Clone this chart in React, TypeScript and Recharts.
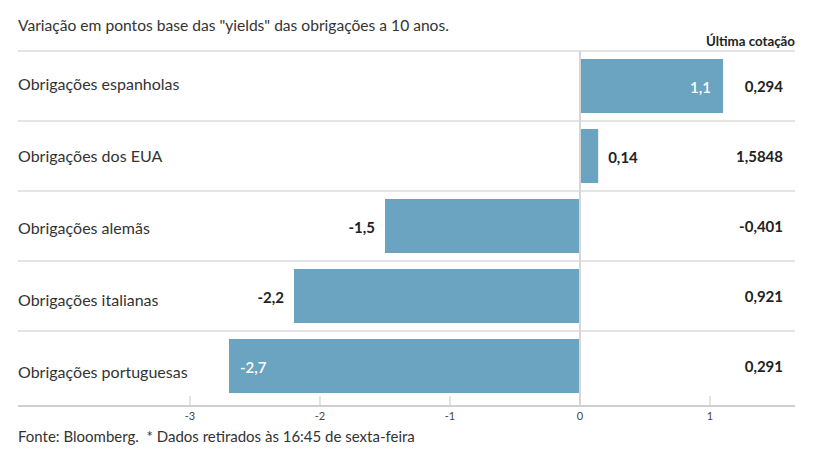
import { BarChart, Bar, XAxis, YAxis, CartesianGrid, LabelList } from 'recharts';

const categories = [
  'Obrigações espanholas',
  'Obrigações dos EUA',
  'Obrigações alemãs',
  'Obrigações italianas',
  'Obrigações portuguesas',
];
const variacao = [1.1, 0.14, -1.5, -2.2, -2.7];
const ultimaCotacao = ['0,294', '1,5848', '-0,401', '0,921', '0,291'];
const xTicks = [-3, -2, -1, 0, 1];

const data = categories.map((name, i) => ({
  name,
  variacao: variacao[i],
  cotacao: ultimaCotacao[i],
}));

const W = 817;
const H = 460;
const margin = { top: 51, right: 22, bottom: 29, left: 18 };
const plotLeft = margin.left;
const plotRight = W - margin.right;

const FONT = 'Lato, "Open Sans", sans-serif';
const BAR = '#6aa4c0';
const GRID = '#c9c9c9';
const TEXT = '#333';

const fmt = (v: number) => String(v).replace('.', ',');

// category names sit in the left column, slightly drifting down like the original
const CategoryLabel = (props: any) => {
  const { y, height, value } = props;
  const i = categories.indexOf(value);
  return (
    <text x={plotLeft} y={y + height / 2 + i * 2 - 2} dy="0.35em" textAnchor="start" fontSize={16} fill={TEXT} fontFamily={FONT}>
      {value}
    </text>
  );
};

// tick mark + label; the 0 tick also carries the vertical baseline up to the top rule
const XTick = (props: any) => {
  const { x, y, payload } = props;
  return (
    <g>
      {payload.value === 0 ? (
        <line x1={x} x2={x} y1={margin.top} y2={y + 5} stroke="#d6d6d6" strokeWidth={2} />
      ) : (
        <line x1={x} x2={x} y1={y - 5} y2={y + 4} stroke={GRID} strokeWidth={1} />
      )}
      <text x={x} y={y + 15} dy="0.35em" textAnchor="middle" fontSize={11} fill="#444" fontFamily={FONT}>
        {payload.value}
      </text>
    </g>
  );
};

const ValueLabel = (props: any) => {
  const { x, y, width, height, value } = props;
  const left = Math.min(x, x + width);
  const right = Math.max(x, x + width);
  const cy = y + height / 2 + 2;
  const positive = value >= 0;
  const fits = positive ? right + 50 < plotRight - 70 : left - 50 > plotLeft + 170;
  let tx: number;
  let anchor: 'start' | 'end';
  if (fits) {
    tx = positive ? right + 10 : left - 10;
    anchor = positive ? 'start' : 'end';
  } else {
    tx = positive ? right - 12 : left + 11;
    anchor = positive ? 'end' : 'start';
  }
  return (
    <text
      x={tx}
      y={cy}
      dy="0.35em"
      textAnchor={anchor}
      fontSize={15}
      fontWeight={fits ? 700 : 600}
      fill={fits ? '#222' : '#fff'}
      fontFamily={FONT}
    >
      {fmt(value)}
    </text>
  );
};

const CotacaoLabel = (props: any) => {
  const { y, height, value } = props;
  return (
    <text
      x={plotRight - 12}
      y={y + height / 2 + 1}
      dy="0.35em"
      textAnchor="end"
      fontSize={15}
      fontWeight={700}
      fill="#222"
      fontFamily={FONT}
    >
      {value}
    </text>
  );
};

export default function App() {
  return (
    <div style={{ position: 'absolute', left: 0, top: 0, width: W, height: H, background: '#fff', fontFamily: FONT }}>
      <div style={{ position: 'absolute', left: 18, top: 16, fontSize: 15.6, color: TEXT, whiteSpace: 'nowrap' }}>
        Variação em pontos base das "yields" das obrigações a 10 anos.
      </div>
      <div style={{ position: 'absolute', right: W - plotRight, top: 33, fontSize: 13.3, fontWeight: 700, color: '#222', whiteSpace: 'nowrap' }}>
        Última cotação
      </div>
      <BarChart width={W} height={H} data={data} layout="vertical" margin={margin} barCategoryGap={8}>
        <CartesianGrid
          vertical={false}
          stroke={GRID}
          horizontalCoordinatesGenerator={({ offset }: any) =>
            categories.map((_, i) => offset.top + (i * offset.height) / categories.length)
          }
        />
        <XAxis
          type="number"
          domain={[-4.323, 1.654]}
          ticks={xTicks}
          allowDataOverflow
          height={30}
          tickSize={0}
          tickMargin={0}
          tickLine={false}
          axisLine={{ stroke: '#cfcfcf', strokeWidth: 2, transform: 'translate(0,5)' }}
          tick={<XTick />}
        />
        <YAxis type="category" dataKey="name" hide />
        <Bar dataKey="variacao" fill={BAR} isAnimationActive={false}>
          <LabelList dataKey="name" content={<CategoryLabel />} />
          <LabelList dataKey="variacao" content={<ValueLabel />} />
          <LabelList dataKey="cotacao" content={<CotacaoLabel />} />
        </Bar>
      </BarChart>
      <div style={{ position: 'absolute', left: 18, top: 427, fontSize: 15, color: TEXT, whiteSpace: 'pre' }}>
        {'Fonte: Bloomberg.  * Dados retirados às 16:45 de sexta-feira'}
      </div>
    </div>
  );
}
